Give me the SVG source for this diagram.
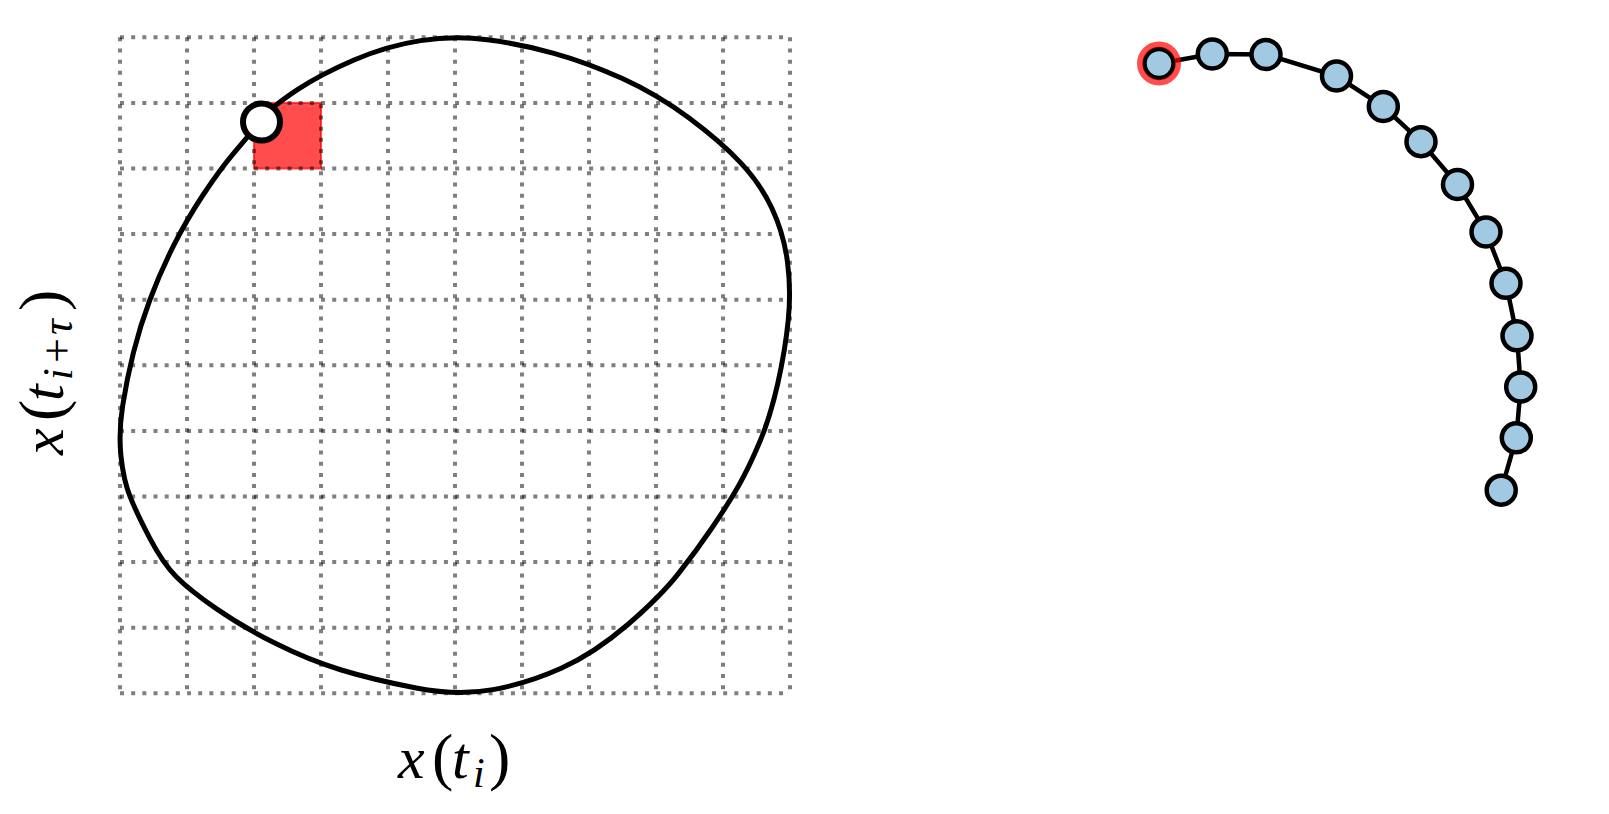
<svg xmlns="http://www.w3.org/2000/svg" width="1609" height="814" viewBox="0 0 1609 814">
<style>
.grid{stroke:#000;stroke-opacity:0.5;stroke-width:4;stroke-dasharray:4 7.17;fill:none}
.node{fill:#a1cae2;stroke:#000;stroke-width:4.5}
.edge{stroke:#000;stroke-width:4.5;fill:none}
.lbl{font-family:"Liberation Serif",serif;fill:#000}
.it{font-style:italic}
</style>
<rect x="0" y="0" width="1609" height="814" fill="#fff"/>
<g id="highlight-cell">
<rect x="254" y="102.9" width="67" height="65.6" fill="#ff0000" fill-opacity="0.7" stroke="#ff0000" stroke-opacity="0.7" stroke-width="2"/>
</g>
<g id="grid">
<path class="grid" d="M120,37.3V693.3M187,37.3V693.3M254,37.3V693.3M321,37.3V693.3M388,37.3V693.3M455,37.3V693.3M522,37.3V693.3M589,37.3V693.3M656,37.3V693.3M723,37.3V693.3M790,37.3V693.3"/>
<path class="grid" d="M120,37.3H790M120,102.9H790M120,168.5H790M120,234.1H790M120,299.7H790M120,365.3H790M120,430.9H790M120,496.5H790M120,562.1H790M120,627.7H790M120,693.3H790"/>
</g>
<g id="attractor">
<path fill="none" stroke="#000" stroke-width="5" stroke-linejoin="round" d="M 253.85,129.4 Q 261,121 268,112.8 Q 275,104.6 297.85,89.45 Q 320.7,74.3 354,60 Q 387.3,45.7 420.65,40.6 Q 454,35.5 487.35,39.75 Q 520.7,44 554,53.3 Q 587.3,62.6 622.4,78.55 Q 657.5,94.5 689.1,118.1 Q 720.7,141.7 740.5,162.6 Q 760.3,183.5 772,208.5 Q 783.7,233.5 787.45,261.75 Q 791.2,290 788.25,320 Q 785.3,350 777.8,383.4 Q 770.3,416.8 759.8,441.8 Q 749.3,466.8 738.9,485.15 Q 728.5,503.5 712.75,526.75 Q 697,550 678.6,573.35 Q 660.2,596.7 627.25,625 Q 594.3,653.3 561.15,668.3 Q 528,683.3 493,689.65 Q 458,696 416.15,688 Q 374.3,680 341.3,670 Q 308.3,660 275.3,643.35 Q 242.3,626.7 215.9,608.35 Q 189.5,590 176.25,576.65 Q 163,563.3 149.85,538.3 Q 136.7,513.3 130.1,496.65 Q 123.5,480 121,456.4 Q 118.5,432.8 122.6,406.15 Q 126.7,379.5 133.35,352.85 Q 140,326.2 150,299.5 Q 160,272.8 173.35,246.15 Q 186.7,219.5 203.35,194.5 Q 220,169.5 233.35,153.65 Q 246.7,137.8 253.85,129.4 Z"/>
</g>
<g id="current-point">
<circle cx="261.5" cy="122" r="18.5" fill="#fff" stroke="#000" stroke-width="6"/>
</g>
<g id="label-x">
<text class="lbl" y="778" font-size="60"><tspan class="it" x="398">x</tspan><tspan x="432" font-size="64">(</tspan><tspan class="it" x="452">t</tspan><tspan class="it" x="473" dy="9" font-size="42">i</tspan><tspan x="489" dy="-9" font-size="64">)</tspan></text>
</g>
<g id="label-y" transform="translate(63,455) rotate(-90)">
<text class="lbl" y="0" font-size="60"><tspan class="it" x="0">x</tspan><tspan x="34" font-size="64">(</tspan><tspan class="it" x="54">t</tspan><tspan class="it" x="75" dy="9" font-size="42">i</tspan><tspan x="92" font-size="44">+</tspan><tspan class="it" x="120" font-size="44">τ</tspan><tspan x="144" dy="-9" font-size="64">)</tspan></text>
</g>
<g id="connectors">
<polyline class="edge" points="1159,63.5 1212.3,54 1266,54.5 1336.5,76 1383.3,106.5 1421,141.7 1457.5,184.5 1486,232 1506,283.3 1517,335.8 1520.7,387 1516.3,437.8 1501.2,490.2"/>
</g>
<g id="n1"><circle class="node" cx="1159" cy="63.5" r="14.5"/><circle cx="1159" cy="63.5" r="19" fill="none" stroke="#ff0000" stroke-opacity="0.7" stroke-width="6"/></g>
<g id="n2"><circle class="node" cx="1212.3" cy="54" r="14.5"/></g>
<g id="n3"><circle class="node" cx="1266" cy="54.5" r="14.5"/></g>
<g id="n4"><circle class="node" cx="1336.5" cy="76" r="14.5"/></g>
<g id="n5"><circle class="node" cx="1383.3" cy="106.5" r="14.5"/></g>
<g id="n6"><circle class="node" cx="1421" cy="141.7" r="14.5"/></g>
<g id="n7"><circle class="node" cx="1457.5" cy="184.5" r="14.5"/></g>
<g id="n8"><circle class="node" cx="1486" cy="232" r="14.5"/></g>
<g id="n9"><circle class="node" cx="1506" cy="283.3" r="14.5"/></g>
<g id="n10"><circle class="node" cx="1517" cy="335.8" r="14.5"/></g>
<g id="n11"><circle class="node" cx="1520.7" cy="387" r="14.5"/></g>
<g id="n12"><circle class="node" cx="1516.3" cy="437.8" r="14.5"/></g>
<g id="n13"><circle class="node" cx="1501.2" cy="490.2" r="14.5"/></g>
</svg>
